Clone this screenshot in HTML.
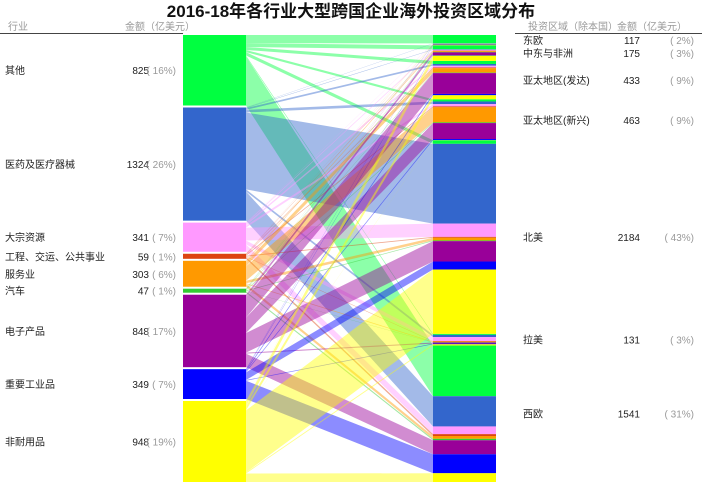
<!DOCTYPE html>
<html><head><meta charset="utf-8">
<style>
body{margin:0;background:#fff;}
svg{display:block;font-family:"Liberation Sans","Noto Sans CJK SC",sans-serif;}
</style></head>
<body>
<svg id="chart" width="702" height="488" viewBox="0 0 702 488">
<text x="351" y="17" text-anchor="middle" font-size="17" font-weight="bold" fill="#111">2016-18年各行业大型跨国企业海外投资区域分布</text>
<text x="8" y="30" font-size="10" fill="#999">行业</text>
<text x="125" y="30" font-size="10" fill="#999">金额（亿美元）</text>
<line x1="0" y1="33.5" x2="183" y2="33.5" stroke="#444" stroke-width="1"/>
<text x="528" y="30" font-size="10" fill="#999">投资区域（除本国）</text>
<text x="617" y="30" font-size="10" fill="#999">金额（亿美元）</text>
<line x1="515" y1="33.5" x2="702" y2="33.5" stroke="#444" stroke-width="1"/>
<g id="links"></g>
<g id="nodes"></g>
<g id="labels"></g>
</svg>
<script>
const industries = ["其他","医药及医疗器械","大宗资源","工程、交运、公共事业","服务业","汽车","电子产品","重要工业品","非耐用品"];
const regions = ["东欧","中东与非洲","亚太地区(发达)","亚太地区(新兴)","北美","拉美","西欧"];
// rows: industries; columns: regions
const flowOther   = [95,45,35,25,40,12,573];
const flowPharma  = [3,5,20,30,900,25,341];
const flowBulk    = [3,10,20,26,150,45,87];
const flowInfra   = [1,4,8,10,10,5,21];
const flowService = [3,10,50,170,30,8,32];
const flowAuto    = [2,5,5,8,8,3,16];
const flowElec    = [3,30,235,180,230,12,158];
const flowHeavy   = [4,6,15,12,90,8,214];
const flowConsum  = [3,60,45,2,726,13,99];
const flows = [flowOther,flowPharma,flowBulk,flowInfra,flowService,flowAuto,flowElec,flowHeavy,flowConsum];
const colors = ["#00ff40","#3366cc","#ff99ff","#dd4411","#ff9900","#33cc33","#990099","#0000ff","#ffff00"];

const NS="http://www.w3.org/2000/svg";
const top0=35, bot0=482, lx0=183, lx1=246, rx0=433, rx1=496, gapL=2, gapR=0;
const indTot = flows.map(r=>r.reduce((a,b)=>a+b,0));
const regTot = regions.map((_,j)=>flows.reduce((a,r)=>a+r[j],0));
const total = indTot.reduce((a,b)=>a+b,0);
const sL = (bot0-top0-gapL*(industries.length-1))/total;
const sR = (bot0-top0-gapR*(regions.length-1))/total;
function mk(tag,attrs,parent){const e=document.createElementNS(NS,tag);for(const k in attrs)e.setAttribute(k,attrs[k]);parent.appendChild(e);return e;}
const gL=document.getElementById('links'),gN=document.getElementById('nodes'),gT=document.getElementById('labels');
// node positions
const indY=[];let y=top0;indTot.forEach((v,i)=>{indY.push(y);y+=v*sL+gapL;});
const regY=[];y=top0;regTot.forEach((v,j)=>{regY.push(y);y+=v*sR+gapR;});
// right offsets per region (ordered by industry)
const rOff={};
regions.forEach((_,j)=>{let o=regY[j];industries.forEach((_,i)=>{rOff[i+'_'+j]=o;o+=flows[i][j]*sR;});});
// links and right segments
industries.forEach((name,i)=>{
  let o=indY[i];
  regions.forEach((rn,j)=>{
    const v=flows[i][j]; if(v<=0) return;
    const h1=v*sL,h2=v*sR,y2=rOff[i+'_'+j];
    const p=mk('path',{d:`M${lx1},${o} L${rx0},${y2} L${rx0},${y2+h2} L${lx1},${o+h1} Z`,fill:colors[i],'fill-opacity':0.45},gL);
    
    
    const s=mk('rect',{x:rx0,y:y2,width:rx1-rx0,height:h2,fill:colors[i]},gN);
    
    
    o+=h1;
  });
  const r=mk('rect',{x:lx0,y:indY[i],width:lx1-lx0,height:indTot[i]*sL,fill:colors[i]},gN);
  
  
  const cy=indY[i]+indTot[i]*sL/2+4;
  const t1=mk('text',{x:5,y:cy,'font-size':10,fill:'#222'},gT);t1.textContent=name;
  
  
  const t2=mk('text',{x:149,y:cy,'font-size':10,fill:'#222','text-anchor':'end'},gT);t2.textContent=indTot[i];
  
  
  const pc=Math.round(indTot[i]/total*100);
  const t3=mk('text',{x:176,y:cy,'font-size':10,fill:'#999','text-anchor':'end'},gT);t3.textContent='( '+pc+'%)';
  
  
});
regions.forEach((name,j)=>{
  const cy=regY[j]+regTot[j]*sR/2+4;
  const t1=mk('text',{x:523,y:cy,'font-size':10,fill:'#222'},gT);t1.textContent=name;
  
  
  const t2=mk('text',{x:640,y:cy,'font-size':10,fill:'#222','text-anchor':'end'},gT);t2.textContent=regTot[j];
  
  
  const pc=Math.round(regTot[j]/total*100);
  const t3=mk('text',{x:694,y:cy,'font-size':10,fill:'#999','text-anchor':'end'},gT);t3.textContent='( '+pc+'%)';
  
  
});
</script>
</body></html>
